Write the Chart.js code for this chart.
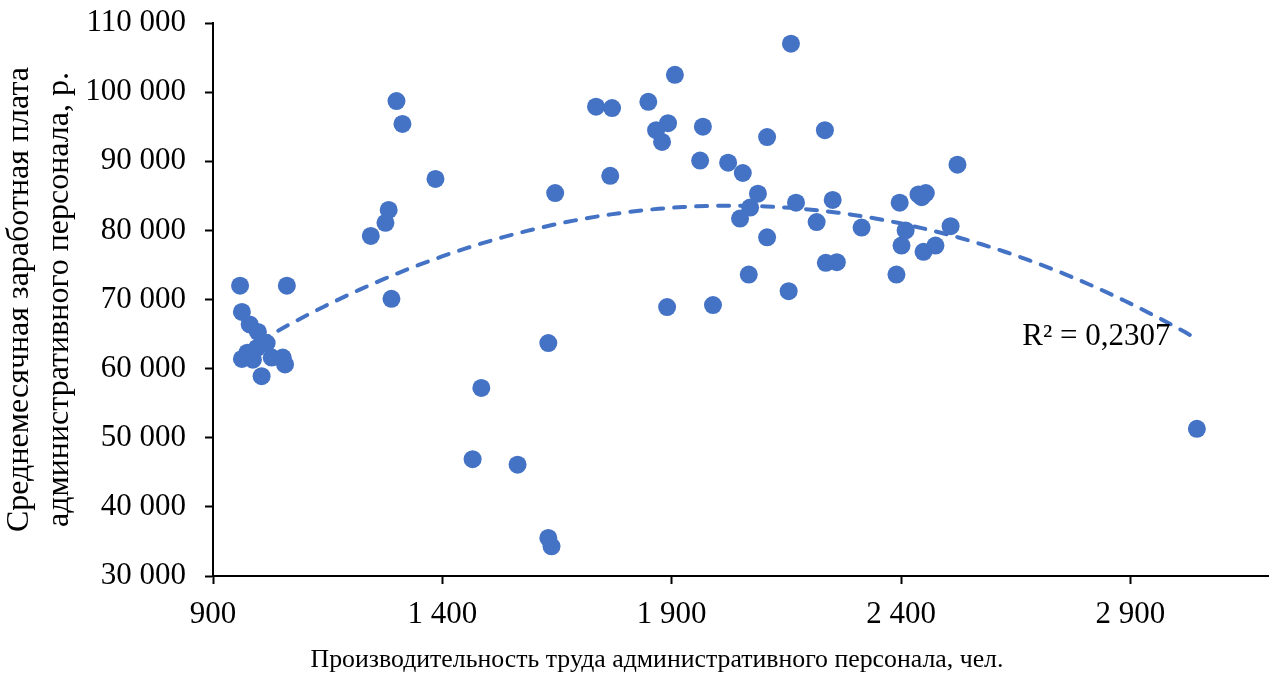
<!DOCTYPE html>
<html lang="ru">
<head>
<meta charset="utf-8">
<title>Производительность и заработная плата административного персонала</title>
<script src="https://cdn.jsdelivr.net/npm/chart.js@4.4.1/dist/chart.umd.min.js"></script>
<style>
  html, body { margin: 0; padding: 0; background: #fff; }
  #wrap { width: 1277px; height: 679px; position: relative; }
</style>
</head>
<body>
<div id="wrap"><canvas id="chart" width="1277" height="679"></canvas></div>
<script>
// Производительность труда административного персонала, чел.
const productivity = [
  959, 1061, 963, 980, 998, 1017, 996, 975, 963, 987, 1006, 1028, 1052, 1057,
  1300, 1313, 1385, 1283, 1276, 1244, 1289,
  1631, 1485, 1466, 1564, 1631, 1638, 1646,
  2160, 1907, 1735, 1770, 1849, 1892, 1866, 1879, 1968, 2108, 2234,
  1766, 1962, 2023, 2055, 2088, 2071, 2049, 2171, 2216, 2108,
  2236, 2260, 2068, 2155, 1890, 1990, 2251, 2314,
  2397, 2410, 2401, 2390, 2438, 2454, 2445, 2449, 2475, 2508, 2523,
  3045
];
// Среднемесячная заработная плата административного персонала, р.
const salary = [
  72000, 72000, 68200, 66400, 65300, 63700, 63000, 62300, 61400, 61300, 58900, 61600, 61600, 60600,
  98700, 95400, 87450, 82950, 81100, 79200, 70100,
  63700, 57200, 46900, 46100, 35500, 34300, 85400,
  107000, 102500, 97900, 97700, 98600, 95500, 94500, 92800, 95000, 93500, 94500,
  87900, 90100, 89800, 88300, 85300, 83300, 81700, 84000, 81200, 79000,
  75300, 75400, 73600, 71200, 68900, 69200, 84400, 80400,
  84000, 80000, 77800, 73600, 85200, 85400, 84800, 76900, 77800, 80600, 89500,
  51300
];
const xTicks = [900, 1400, 1900, 2400, 2900];
const yTicks = [30000, 40000, 50000, 60000, 70000, 80000, 90000, 100000, 110000];
const rSquaredLabel = 'R² = 0,2307';

const xTitle = 'Производительность труда административного персонала, чел.';
const yTitle = ['Среднемесячная заработная плата', 'административного персонала, р.'];

const BLUE = '#4472C4';
const FONT = "'Liberation Serif', 'Times New Roman', serif";

// Полиномиальная линия тренда 2-й степени (метод наименьших квадратов)
function quadFit(xs, ys) {
  const n = xs.length;
  const xm = xs.reduce((a, b) => a + b, 0) / n;
  let s = [0, 0, 0, 0, 0], t = [0, 0, 0];
  for (let i = 0; i < n; i++) {
    const u = (xs[i] - xm) / 1000;
    let p = 1;
    for (let k = 0; k < 5; k++) { s[k] += p; if (k < 3) t[k] += p * ys[i]; p *= u; }
  }
  const A = [[s[0], s[1], s[2]], [s[1], s[2], s[3]], [s[2], s[3], s[4]]];
  const det = m => m[0][0]*(m[1][1]*m[2][2]-m[1][2]*m[2][1]) - m[0][1]*(m[1][0]*m[2][2]-m[1][2]*m[2][0]) + m[0][2]*(m[1][0]*m[2][1]-m[1][1]*m[2][0]);
  const D = det(A);
  const c = [0, 1, 2].map(j => det(A.map((row, r) => row.map((v, k) => k === j ? t[r] : v))) / D);
  return x => { const u = (x - xm) / 1000; return c[0] + c[1]*u + c[2]*u*u; };
}
const trend = quadFit(productivity, salary);
const xMin = Math.min(...productivity), xMax = Math.max(...productivity);
const trendPoints = [];
for (let i = 0; i <= 80; i++) {
  const x = xMin + (xMax - xMin) * i / 80;
  trendPoints.push({ x, y: trend(x) });
}

const points = productivity.map((x, i) => ({ x, y: salary[i] }));
const fmt = v => String(v).replace(/\B(?=(\d{3})+(?!\d))/g, ' ');

// Подпись R² и название горизонтальной оси
const labelsPlugin = {
  id: 'labels',
  afterDatasetsDraw(chart) {
    const { ctx, scales: { x, y } } = chart;
    ctx.save();
    ctx.fillStyle = '#000';
    ctx.textAlign = 'center';
    ctx.textBaseline = 'middle';
    ctx.font = `31px ${FONT}`;
    ctx.fillText(rSquaredLabel, x.getPixelForValue(2826), y.getPixelForValue(64600));
    ctx.font = `25.8px ${FONT}`;
    ctx.fillText(xTitle, 657, 660);
    ctx.restore();
  }
};

new Chart(document.getElementById('chart'), {
  type: 'scatter',
  data: {
    datasets: [
      {
        label: 'Данные',
        data: points,
        backgroundColor: BLUE,
        borderColor: BLUE,
        borderWidth: 0,
        pointRadius: 9,
        pointHoverRadius: 9,
        order: 1
      },
      {
        type: 'line',
        label: 'Полиномиальная (Данные)',
        data: trendPoints,
        borderColor: BLUE,
        borderWidth: 4,
        borderDash: [11, 11],
        borderCapStyle: 'round',
        pointRadius: 0,
        fill: false,
        tension: 0,
        order: 2
      }
    ]
  },
  options: {
    responsive: false,
    animation: false,
    layout: { padding: { top: 23, right: 7, left: 0, bottom: 0 } },
    plugins: { legend: { display: false }, tooltip: { enabled: false } },
    scales: {
      x: {
        type: 'linear',
        min: 900,
        max: 3200,
        afterBuildTicks: s => { s.ticks = xTicks.map(v => ({ value: v })); },
        afterFit: s => { s.height = 103; s.paddingLeft = 0; s.paddingRight = 0; },
        ticks: {
          font: { family: FONT, size: 31 },
          color: '#000',
          padding: 12,
          maxRotation: 0,
          callback: v => fmt(v)
        },
        grid: { display: true, drawOnChartArea: false, drawTicks: true, tickLength: 8, tickColor: '#000', tickWidth: 2 },
        border: { display: true, color: '#000', width: 2 },
        title: { display: false }
      },
      y: {
        type: 'linear',
        min: 30000,
        max: 110000,
        afterBuildTicks: s => { s.ticks = yTicks.map(v => ({ value: v })); },
        afterFit: s => { s.width = 213; s.paddingTop = 0; s.paddingBottom = 0; },
        ticks: {
          font: { family: FONT, size: 31 },
          color: '#000',
          padding: 19,
          callback: v => fmt(v)
        },
        grid: { display: true, drawOnChartArea: false, drawTicks: true, tickLength: 8, tickColor: '#000', tickWidth: 2 },
        border: { display: true, color: '#000', width: 2 },
        title: {
          display: true,
          text: yTitle,
          font: { family: FONT, size: 32, lineHeight: 1.25 },
          color: '#000',
          padding: { top: 0, bottom: 0 }
        }
      }
    }
  },
  plugins: [labelsPlugin]
});
</script>
</body>
</html>
